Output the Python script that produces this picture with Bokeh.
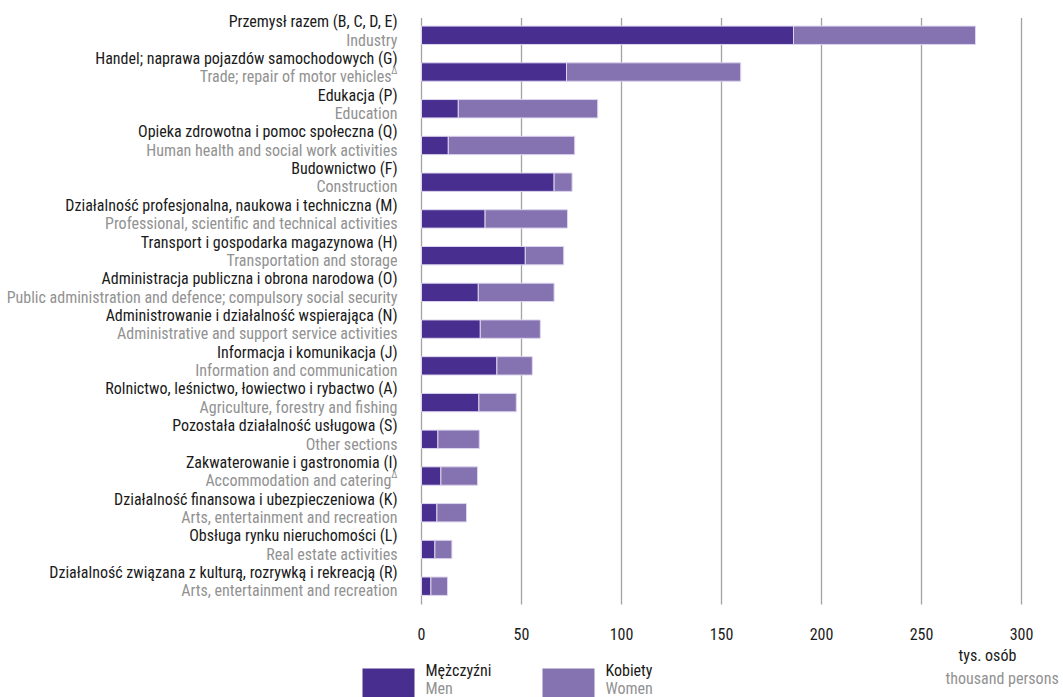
import numpy as np
from bokeh.plotting import figure
from bokeh.models import ColumnDataSource, Range1d
from bokeh.core.properties import value
from bokeh.embed import file_html
from bokeh.resources import INLINE

# ---- data ----
cat_pl = [
    "Przemysł razem (B, C, D, E)",
    "Handel; naprawa pojazdów samochodowych (G)",
    "Edukacja (P)",
    "Opieka zdrowotna i pomoc społeczna (Q)",
    "Budownictwo (F)",
    "Działalność profesjonalna, naukowa i techniczna (M)",
    "Transport i gospodarka magazynowa (H)",
    "Administracja publiczna i obrona narodowa (O)",
    "Administrowanie i działalność wspierająca (N)",
    "Informacja i komunikacja (J)",
    "Rolnictwo, leśnictwo, łowiectwo i rybactwo (A)",
    "Pozostała działalność usługowa (S)",
    "Zakwaterowanie i gastronomia (I)",
    "Działalność finansowa i ubezpieczeniowa (K)",
    "Obsługa rynku nieruchomości (L)",
    "Działalność związana z kulturą, rozrywką i rekreacją (R)",
]
cat_en = [
    "Industry",
    "Trade; repair of motor vehicles",
    "Education",
    "Human health and social work activities",
    "Construction",
    "Professional, scientific and technical activities",
    "Transportation and storage",
    "Public administration and defence; compulsory social security",
    "Administrative and support service activities",
    "Information and communication",
    "Agriculture, forestry and fishing",
    "Other sections",
    "Accommodation and catering",
    "Arts, entertainment and recreation",
    "Real estate activities",
    "Arts, entertainment and recreation",
]
cat_note = ["", "\u0394", "", "", "", "", "", "", "", "", "", "", "\u0394", "", "", ""]
men = [186.0, 72.5, 18.4, 13.4, 66.3, 31.8, 51.9, 28.4, 29.4, 37.7, 28.7, 8.2, 9.7, 7.7, 6.7, 4.7]
women = [91.0, 87.1, 69.7, 63.2, 9.0, 41.2, 19.2, 37.9, 30.0, 17.7, 18.7, 20.7, 18.3, 14.8, 8.5, 8.3]
x_ticks = [0, 50, 100, 150, 200, 250, 300]
x_tick_labels = ["0", "50", "100", "150", "200", "250", "300"]
unit_pl = "tys. osób"
unit_en = "thousand persons"
legend_pl = ["Mężczyźni", "Kobiety"]
legend_en = ["Men", "Women"]

# ---- style ----
FONT = "Roboto Condensed"
C_MEN = "#482f8f"
C_WOMEN = "#8572b1"
C_DARK = "#1a1a1a"
C_GREY = "#929292"
FS = "16px"

n = len(cat_pl)
rows = np.arange(n)
has_note = np.array([1.0 if s else 0.0 for s in cat_note])

src = ColumnDataSource(dict(y=rows, men=men, women=women))

p = figure(width=1063, height=697, x_range=Range1d(-210.5, 321),
           y_range=Range1d(18.03, -0.947), output_backend="svg",
           toolbar_location=None, min_border=0)
p.outline_line_color = None
p.xaxis.visible = False
p.yaxis.visible = False
p.xgrid.visible = False
p.ygrid.visible = False

# gridlines
p.segment(x0=x_ticks, x1=x_ticks, y0=-0.47, y1=15.5, line_color="#a3a3a3", line_width=1.3)

# bars
p.hbar_stack(["men", "women"], y="y", height=0.5, color=[C_MEN, C_WOMEN],
             line_color="#dcd5ee", line_width=1, source=src)

# category labels
p.text(x=-12, y=rows - 0.37, text=cat_pl, text_align="right", text_baseline="alphabetic",
       text_font=value(FONT), text_font_size=FS, text_color=C_DARK)
p.text(x=-12 - 3.0 * has_note, y=rows + 0.13, text=cat_en, text_align="right", text_baseline="alphabetic",
       text_font=value(FONT), text_font_size=FS, text_color=C_GREY)
p.text(x=-12, y=rows - 0.03, text=cat_note, text_align="right", text_baseline="alphabetic",
       text_font=value(FONT), text_font_size="10px", text_color=C_GREY)

# x tick labels
p.text(x=x_ticks, y=[16.31] * len(x_ticks), text=x_tick_labels, text_align="center",
       text_baseline="alphabetic", text_font=value(FONT), text_font_size=FS, text_color=C_DARK)

# unit
p.text(x=[268.5], y=[16.90], text=[unit_pl], text_align="left", text_baseline="alphabetic",
       text_font=value(FONT), text_font_size=FS, text_color=C_DARK)
p.text(x=[262], y=[17.52], text=[unit_en], text_align="left", text_baseline="alphabetic",
       text_font=value(FONT), text_font_size=FS, text_color=C_GREY)

# legend
p.quad(left=[-29.5, 60.5], right=[-3.5, 86.5], top=[17.24, 17.24], bottom=[18.03, 18.03],
       color=[C_MEN, C_WOMEN], line_color=None)
p.text(x=[2, 92], y=[17.30, 17.30], text=legend_pl, text_align="left", text_baseline="alphabetic",
       text_font=value(FONT), text_font_size=FS, text_color=C_DARK)
p.text(x=[2, 92], y=[17.78, 17.78], text=legend_en, text_align="left", text_baseline="alphabetic",
       text_font=value(FONT), text_font_size=FS, text_color=C_GREY)

open("out.html", "w").write(file_html(p, INLINE))
